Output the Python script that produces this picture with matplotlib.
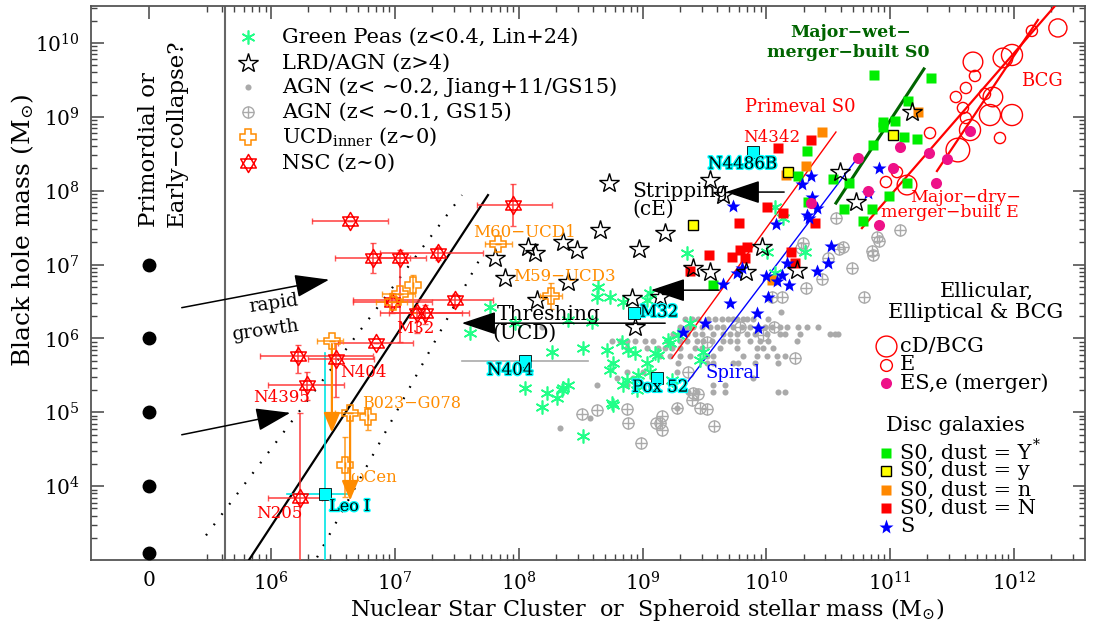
import numpy as np
import matplotlib
matplotlib.use('Agg')
import matplotlib.pyplot as plt
import matplotlib.patheffects as pe
from matplotlib.path import Path
from matplotlib.ticker import FixedLocator, NullFormatter

plt.rcParams['font.family'] = ['DejaVu Serif']
plt.rcParams['mathtext.fontset'] = 'dejavuserif'

# ---------------- data (log10 of solar masses) ----------------
zero_pos = 5.013            # where the "0" column sits on the log axis
seed_bh = [7.0, 6.0, 5.0, 4.0, 3.1]

gp_x = [8.64, 8.632, 8.737, 8.842, 9.06, 9.359, 7.767, 7.606, 8.591, 8.397, 8.268, 8.519,
        8.713, 8.834, 8.882, 8.939, 8.761, 8.737, 9.036, 9.06, 9.124, 9.221, 9.237, 8.05,
        8.228, 8.309, 8.187, 8.357, 8.397, 8.761, 8.842, 8.955, 9.036, 9.1, 9.205, 9.286,
        9.488, 9.464, 10.07, 10.134, 10.005, 10.312, 10.07, 9.383, 8.753, 8.519, 7.97,
        8.349, 8.963, 8.874]
gp_y = [6.694, 6.558, 6.558, 6.49, 6.612, 7.154, 6.423, 6.07, 6.22, 6.247, 5.813, 5.867,
        5.84, 5.948, 5.84, 5.799, 5.664, 5.569, 5.664, 5.542, 5.772, 5.935, 5.434, 5.325,
        5.257, 5.19, 5.068, 5.325, 5.366, 5.095, 5.366, 5.298, 6.518, 5.799, 5.976, 6.043,
        5.813, 5.705, 7.778, 7.629, 7.168, 7.168, 6.883, 6.206, 5.122, 4.675, 6.206,
        5.298, 5.501, 5.434]

lrd_x = [8.075, 8.131, 8.357, 7.808, 7.889, 8.147, 8.397, 8.729, 8.656, 8.47, 8.971, 9.181,
         8.914, 8.939, 9.545, 9.649, 9.407, 9.545, 10.594, 10.724, 11.176, 9.964, 9.835,
         10.247, 9.141]
lrd_y = [7.236, 7.154, 7.304, 7.087, 6.816, 6.518, 6.762, 8.103, 7.466, 7.195, 7.209, 7.425,
         6.545, 6.152, 8.144, 7.94, 6.951, 6.897, 8.252, 7.846, 9.065, 7.236, 6.897,
         6.924, 6.558]

agn_row_y = [6.355, 6.26, 6.152, 6.057, 5.962, 5.867, 5.759, 5.664, 5.542, 5.461, 5.366,
             5.271, 5.054, 4.919, 4.783, 6.152]
agn_row_x = [
    [10.118],
    [9.343, 9.399, 9.448, 9.528, 9.585, 9.641, 9.69, 9.73, 9.763, 9.811, 9.843, 9.892, 10.013],
    [9.302, 9.359, 9.407, 9.48, 9.544, 9.601, 9.649, 9.73, 9.803, 9.868, 9.932, 9.989, 10.045,
     10.11, 10.166, 10.255, 10.328, 10.417],
    [9.246, 9.302, 9.359, 9.423, 9.48, 9.569, 9.649, 9.706, 9.763, 9.843, 9.908, 10.005, 10.11,
     10.15, 10.271, 10.514, 10.554, 10.578],
    [8.753, 8.817, 8.874, 8.939, 9.019, 9.084, 9.197, 9.302, 9.359, 9.439, 9.488, 9.561, 9.649,
     9.706, 9.763, 9.868, 9.948, 10.013, 10.247],
    [8.874, 9.036, 9.124, 9.181, 9.237, 9.302, 9.423, 9.48, 9.625, 9.763, 9.924, 9.973, 10.053],
    [9.141, 9.221, 9.302, 9.383, 9.52, 9.569, 9.811, 9.924, 10.005, 10.086, 10.15],
    [9.286, 9.52, 9.569, 9.73, 9.771, 9.908, 10.094],
    [8.874, 9.003, 9.278],
    [8.793, 8.922, 9.892],
    [8.632, 8.874, 9.06, 9.569, 9.665],
    [9.367, 9.439, 9.569, 9.665, 10.094, 10.15],
    [9.278],
    [8.575],
    [8.333],
    [8.187],
]

gs15_x = [10.562, 11.079, 10.893, 10.618, 10.853, 10.861, 10.497, 10.296, 10.28, 10.586,
          10.691, 10.788, 10.449, 10.32, 10.126, 10.045, 10.061, 9.973, 9.787, 10.231, 9.52,
          9.367, 9.407, 9.448, 9.399, 9.278, 9.157, 9.141, 9.157, 9.52, 9.577, 8.882, 8.874,
          8.632, 8.51, 8.987, 9.108, 9.464, 10.91]
gs15_y = [7.629, 7.466, 7.371, 7.236, 7.182, 7.127, 7.087, 7.29, 7.222, 7.209, 6.951, 6.558,
          6.802, 6.68, 6.558, 6.558, 6.152, 6.043, 6.152, 5.732, 5.949, 5.542, 5.257, 5.244,
          5.163, 5.054, 4.946, 4.851, 4.756, 5.041, 4.81, 4.851, 5.041, 5.027, 4.973, 4.58,
          4.851, 5.054, 7.317]

nsc_x = [6.636, 6.822, 7.04, 7.349, 7.954, 7.484, 6.975, 7.177, 7.242, 6.847, 6.216, 6.524, 6.289, 6.232]
nsc_xlo = [6.33, 6.515, 6.88, 6.875, 7.661, 6.66, 6.66, 6.88, 6.95, 6.54, 5.909, 6.3, 5.974, 5.974]
nsc_xhi = [6.943, 7.121, 7.25, 7.71, 8.267, 7.79, 7.3, 7.54, 7.6, 7.145, 6.822, 6.83, 6.588, 6.409]
nsc_y = [7.588, 7.087, 7.087, 7.154, 7.805, 6.518, 6.49, 6.341, 6.341, 5.935, 5.759, 5.718, 5.366, 3.835]
nsc_ylo = [7.588, 6.883, 5.949, 7.06, 7.52, 6.44, 6.35, 6.07, 6.2, 5.935, 5.528, 5.203, 5.163, 2.9]
nsc_yhi = [7.588, 7.29, 7.195, 7.236, 8.09, 6.6, 6.62, 6.42, 6.45, 5.935, 5.908, 5.935, 5.542, 4.986]

ucd_x = [7.832, 8.26, 7.146, 7.04, 6.984, 6.49, 6.637, 6.782, 6.596]
ucd_xlo = [7.727, 8.171, 7.146, 6.896, 6.85, 6.369, 6.515, 6.782, 6.596]
ucd_xhi = [7.945, 8.349, 7.146, 7.162, 7.1, 6.58, 6.758, 6.782, 6.596]
ucd_y = [7.276, 6.572, 6.721, 6.599, 6.49, 5.962, 4.986, 4.932, 4.282]
ucd_ylo = [7.276, 6.396, 6.341, 6.599, 6.49, 5.962, 4.986, 4.756, 3.848]
ucd_yhi = [7.276, 6.748, 6.856, 6.599, 6.49, 5.962, 4.986, 5.054, 4.661]
ucd_lim_x = [6.49, 6.637]
ucd_lim_top = [5.962, 4.986]
ucd_lim_bot = [4.688, 3.767]

cyan_x = [8.05, 8.93, 9.116, 9.892, 6.436]     # N404, M32, Pox52, N4486B, Leo I
cyan_y = [5.691, 6.341, 5.461, 8.523, 3.889]
n404_xerr = [7.541, 8.559]
leo_xerr = [6.128, 6.637]
leo_ytop = 5.8

s0Y_x = [10.869, 11.329, 11.143, 10.942, 11.039, 10.942, 11.112, 11.217, 10.328, 10.255, 10.538,
         10.667, 11.136, 10.99, 10.336, 10.627, 10.853, 10.78, 10.861, 9.569]
s0Y_y = [9.566, 9.526, 9.214, 8.93, 8.943, 8.862, 8.726, 8.699, 8.537, 8.198, 8.157, 8.103,
         8.103, 7.927, 7.846, 7.751, 7.751, 7.588, 8.618, 6.721]
s0y_x = [10.175, 11.023, 9.407]
s0y_y = [8.252, 8.753, 7.534]
s0n_x = [10.449, 10.32, 11.225, 10.045, 10.16]
s0n_y = [8.794, 8.333, 9.065, 6.789, 8.211]
s0N_x = [10.361, 10.094, 10.005, 10.134, 9.779, 10.393, 9.536, 9.722, 9.787, 9.843, 9.827,
         10.199, 9.383, 10.231]
s0N_y = [8.686, 8.577, 7.778, 7.696, 7.561, 7.561, 7.127, 7.1, 7.195, 7.236, 7.087, 7.168,
         6.911, 7.019]
sp_x = [10.361, 10.288, 10.369, 10.409, 10.328, 10.345, 10.078, 9.73, 10.91, 10.821, 10.522,
        9.649, 9.706, 9.504, 9.326, 9.763, 9.803, 9.997, 10.086, 10.126, 10.182, 10.013,
        10.166, 10.409, 10.497, 9.924, 9.932]
sp_y = [8.198, 8.089, 7.913, 7.764, 7.669, 7.629, 7.547, 7.791, 8.306, 7.967, 7.249, 6.734,
        6.477, 6.206, 6.084, 6.883, 6.951, 6.843, 6.775, 6.856, 6.721, 6.558, 7.019, 6.911,
        7.019, 6.341, 6.138]

ese_x = [10.74, 11.079, 11.314, 11.023, 11.46, 11.645, 11.37, 10.821, 10.361, 10.91]
ese_y = [8.442, 8.591, 8.51, 8.306, 8.428, 8.808, 8.103, 7.995, 7.832, 7.534]
e_x = [12.145, 11.887, 11.322, 11.531, 11.612, 11.685, 11.588, 11.612, 11.766, 11.055, 10.966]
e_y = [10.163, 8.713, 8.78, 9.268, 9.39, 9.553, 9.119, 8.984, 9.309, 8.252, 8.117]
cd_x = [12.355, 11.669, 11.984, 11.911, 11.83, 11.806, 11.984, 11.645, 11.547, 11.136]
cd_y = [10.203, 9.743, 9.837, 9.797, 9.268, 9.024, 9.024, 8.821, 8.55, 8.076]
cd_size = [170, 200, 230, 200, 200, 230, 230, 230, 290, 200]

# relations (end points)
nsc_fit = ([5.82, 7.751], [3.0, 7.94])
nsc_lo = ([5.473, 7.541], [3.333, 7.94])
nsc_hi = ([6.37, 7.711], [3.035, 7.154])
primeval = ([9.237, 10.562], [5.732, 8.794])
spiral = ([9.343, 10.724], [5.366, 8.415])
wet = ([10.562, 11.273], [7.832, 9.648])
dry = ([10.772, 12.331], [7.493, 10.5])
bcg = ([11.378, 12.194], [8.266, 10.312])

# arrows (tail -> tip)
arrows = [((5.255, 6.409), (6.49, 6.802)),
          ((5.255, 4.688), (6.176, 5.0)),
          ((10.166, 7.981), (9.649, 7.981)),
          ((9.641, 6.653), (9.044, 6.653)),
          ((9.205, 6.206), (7.517, 6.206))]

P = lambda a: 10 ** np.asarray(a, dtype=float)

# ---------------- figure ----------------
fig = plt.figure(figsize=(10.99, 6.26), dpi=100)
ax = fig.add_axes([91 / 1099, 66 / 626, 994 / 1099, 554 / 626])
ax.set_xscale('log')
ax.set_yscale('log')
ax.set_xlim(10 ** 4.544, 10 ** 12.574)
ax.set_ylim(10 ** 3.0, 10 ** 10.5)

gray = '#aaaaaa'
red = '#ff0000'
orange = '#ff8c00'
gpc = '#22ff88'

# vertical divider
ax.axvline(10 ** 5.627, color='#666666', lw=1.5, zorder=1)

# seeds
ax.plot(P([zero_pos] * len(seed_bh)), P(seed_bh), 'o', color='k', ms=9, zorder=5)

# relations
ax.plot(P(nsc_fit[0]), P(nsc_fit[1]), color='k', lw=1.6, zorder=3)
ax.plot(P(nsc_lo[0]), P(nsc_lo[1]), color='k', lw=1.6, ls=(0, (0.8, 5)), zorder=3)
ax.plot(P(nsc_hi[0]), P(nsc_hi[1]), color='k', lw=1.6, ls=(0, (0.8, 5)), zorder=3)
ax.plot(P(primeval[0]), P(primeval[1]), color=red, lw=1.0, zorder=3)
ax.plot(P(spiral[0]), P(spiral[1]), color='#0000ff', lw=1.0, zorder=3)
ax.plot(P(wet[0]), P(wet[1]), color='#006400', lw=2.2, zorder=3)
ax.plot(P(dry[0]), P(dry[1]), color=red, lw=1.6, zorder=3)
ax.plot(P(bcg[0]), P(bcg[1]), color=red, lw=1.6, zorder=3)

# AGN points
agn_x = [v for row in agn_row_x for v in row]
agn_y = [y for y, row in zip(agn_row_y, agn_row_x) for _ in row]
ax.plot(P(agn_x), P(agn_y), 'o', color=gray, ms=4.4, mec='none', zorder=2)
ax.plot(P(gs15_x), P(gs15_y), 'o', mfc='none', mec=gray, ms=8, mew=1.0, zorder=2)
ax.plot(P(gs15_x), P(gs15_y), '+', color=gray, ms=8, mew=1.0, zorder=2)

# green peas
ax.plot(P(gp_x), P(gp_y), ls='none', marker=(6, 2, 0), color=gpc, ms=10, mew=1.2, zorder=4)

# LRDs
ax.plot(P(lrd_x), P(lrd_y), '*', mfc='none', mec='k', ms=15, mew=1.0, zorder=6)

# S0 / S
ax.plot(P(s0N_x), P(s0N_y), 's', color='#ff0000', ms=7, mec='none', zorder=5)
ax.plot(P(s0n_x), P(s0n_y), 's', color='#ff8800', ms=7, mec='none', zorder=5)
ax.plot(P(s0y_x), P(s0y_y), 's', color='#ffff00', ms=7, mec='k', mew=1.0, zorder=5)
ax.plot(P(s0Y_x), P(s0Y_y), 's', color='#00ee00', ms=7, mec='none', zorder=5)
ax.plot(P(sp_x), P(sp_y), '*', color='#0000ff', ms=10, mec='none', zorder=5)

# ellipticals
ax.scatter(P(cd_x), P(cd_y), s=cd_size, facecolors='none', edgecolors=red, linewidths=1.0, zorder=4)
ax.scatter(P(e_x), P(e_y), s=65, facecolors='none', edgecolors=red, linewidths=1.0, zorder=4)
ax.plot(P(ese_x), P(ese_y), 'o', color='#ee1188', ms=8, mec='none', zorder=5)

# NSCs with errors
hexagram = Path([(0, 1), (0.866, -0.5), (-0.866, -0.5), (0, 1),
                 (0, -1), (0.866, 0.5), (-0.866, 0.5), (0, -1)],
                [Path.MOVETO, Path.LINETO, Path.LINETO, Path.CLOSEPOLY] * 2)
nx, ny = P(nsc_x), P(nsc_y)
ax.errorbar(nx, ny, xerr=[nx - P(nsc_xlo), P(nsc_xhi) - nx],
            yerr=[ny - P(nsc_ylo), P(nsc_yhi) - ny], fmt='none',
            ecolor='#ff3030', elinewidth=1.3, capsize=2.5, alpha=0.8, zorder=6)
ax.plot(nx, ny, ls='none', marker=hexagram, mfc='none', mec=red, ms=13, mew=1.1, zorder=7)

# UCDs
ux, uy = P(ucd_x), P(ucd_y)
ax.errorbar(ux, uy, xerr=[ux - P(ucd_xlo), P(ucd_xhi) - ux],
            yerr=[uy - P(ucd_ylo), P(ucd_yhi) - uy], fmt='none',
            ecolor=orange, elinewidth=1.2, capsize=2.5, alpha=0.8, zorder=6)
ax.plot(ux, uy, ls='none', marker='P', mfc='none', mec=orange, ms=11, mew=1.1, zorder=7)
for xx, yt, yb in zip(ucd_lim_x, ucd_lim_top, ucd_lim_bot):
    ax.annotate('', xy=(10 ** xx, 10 ** yb), xytext=(10 ** xx, 10 ** yt),
                arrowprops=dict(arrowstyle='-|>,head_length=1.2,head_width=0.5',
                                color=orange, lw=1.6, mutation_scale=10), zorder=6)

# cyan special objects
ax.plot(P(n404_xerr), P([cyan_y[0]] * 2), color=gray, lw=1.2, zorder=3)
ax.plot(P(leo_xerr), P([cyan_y[4]] * 2), color='#00e5e5', lw=1.2, zorder=3)
ax.plot(P([cyan_x[4]] * 2), P([leo_ytop, 2.9]), color='#00e5e5', lw=1.2, zorder=3)
ax.plot(P(cyan_x), P(cyan_y), 's', color='#00ffff', ms=8, mec='k', mew=0.6, zorder=8)

# arrows
for tail, tip in arrows:
    ax.annotate('', xy=(10 ** tip[0], 10 ** tip[1]), xytext=(10 ** tail[0], 10 ** tail[1]),
                arrowprops=dict(arrowstyle='-|>,head_length=1.8,head_width=0.6',
                                color='k', lw=1.1, mutation_scale=12), zorder=9)

# ---------------- text labels ----------------
def lab(x, y, s, c='k', ha='left', fs=11.5, **kw):
    ax.text(10 ** x, 10 ** y, s, color=c, ha=ha, va='center', fontsize=fs, zorder=10, **kw)

cy = [pe.withStroke(linewidth=2.0, foreground='#00ffff')]
lab(7.16, 6.14, 'M32', red, ha='center', fs=12)
lab(6.556, 5.542, 'N404', red, fs=12)
lab(6.08, 5.203, 'N4395', red, ha='center', fs=12)
lab(6.064, 3.631, 'N205', red, ha='center', fs=12)
lab(6.735, 5.122, 'B023\u2212G078', orange)
lab(6.637, 4.12, '\u03c9Cen', orange, fs=12)
lab(6.468, 3.726, 'Leo I', path_effects=cy)
lab(7.629, 7.439, 'M60\u2212UCD1', orange, fs=12)
lab(7.953, 6.843, 'M59\u2212UCD3', orange, fs=12)
lab(7.823, 6.328, 'Threshing', fs=14.5)
lab(7.79, 6.07, '(UCD)', fs=14.5)
lab(8.979, 6.355, 'M32', path_effects=cy, fs=12)
lab(7.743, 5.569, 'N404', path_effects=cy, fs=12)
lab(8.914, 5.339, 'Pox 52', path_effects=cy, fs=12)
lab(9.512, 5.528, 'Spiral', '#0000ff', fs=13)
lab(8.914, 7.995, 'Stripping', fs=14.5)
lab(8.914, 7.751, '(cE)', fs=14.5)
lab(9.528, 8.36, 'N4486B', path_effects=cy, fs=12)
lab(9.811, 8.726, 'N4342', red, fs=12)
lab(9.827, 9.133, 'Primeval S0', red, fs=13)
lab(10.683, 10.136, 'Major\u2212wet\u2212', '#006400', ha='center', fs=12.5, fontweight='bold')
lab(10.66, 9.865, 'merger\u2212built S0', '#006400', ha='center', fs=12.5, fontweight='bold')
lab(12.226, 9.485, 'BCG', red, ha='center', fs=13)
lab(11.612, 7.913, 'Major\u2212dry\u2212', red, ha='center', fs=12.5)
lab(11.484, 7.71, 'merger\u2212built E', red, ha='center', fs=12.5)

ax.text(10 ** zero_pos, 10 ** 7.507, 'Primordial or', rotation=90, ha='center', va='bottom', fontsize=16.5)
ax.text(10 ** 5.237, 10 ** 7.507, 'Early\u2212collapse?', rotation=90, ha='center', va='bottom', fontsize=16.5)
ax.text(10 ** 6.02, 10 ** 6.47, 'rapid', rotation=8, ha='center', va='center', fontsize=13.5)
ax.text(10 ** 5.95, 10 ** 6.11, 'growth', rotation=8, ha='center', va='center', fontsize=13.5)

# ---------------- legends (axes fraction) ----------------
T = ax.transAxes
LFS = 15
leg1 = [((6, 2, 0), dict(color=gpc, ms=10, mew=1.2), 'Green Peas (z<0.4, Lin+24)'),
        ('*', dict(mfc='none', mec='k', ms=15, mew=1.0), 'LRD/AGN (z>4)'),
        ('o', dict(color=gray, ms=4.4, mec='none'), 'AGN (z< ~0.2, Jiang+11/GS15)'),
        ('o', dict(mfc='none', mec=gray, ms=8, mew=1.0), 'AGN (z< ~0.1, GS15)'),
        ('P', dict(mfc='none', mec=orange, ms=11, mew=1.1), 'UCD$_{\\rm inner}$ (z~0)'),
        (hexagram, dict(mfc='none', mec=red, ms=13, mew=1.1), 'NSC (z~0)')]
leg1_y = [0.944, 0.897, 0.854, 0.809, 0.764, 0.717]
for (m, kw, s), yy in zip(leg1, leg1_y):
    ax.plot([0.158], [yy], ls='none', marker=m, transform=T, clip_on=False, **kw)
    if s.startswith('AGN (z< ~0.1'):
        ax.plot([0.158], [yy], ls='none', marker='+', color=gray, ms=8, mew=1.0, transform=T)
    ax.text(0.192, yy, s, transform=T, fontsize=LFS, va='center', ha='left')

ax.text(0.901, 0.484, 'Ellicular,', transform=T, fontsize=LFS, ha='center', va='center')
ax.text(0.890, 0.446, 'Elliptical & BCG', transform=T, fontsize=LFS, ha='center', va='center')
leg2 = [(0.386, dict(marker='o', mfc='none', mec=red, ms=15, mew=1.0), 'cD/BCG'),
        (0.352, dict(marker='o', mfc='none', mec=red, ms=8.5, mew=1.0), 'E'),
        (0.319, dict(marker='o', color='#ee1188', ms=8, mec='none'), 'ES,e (merger)'),
        (0.193, dict(marker='s', color='#00ee00', ms=7, mec='none'), 'S0, dust = Y'),
        (0.161, dict(marker='s', color='#ffff00', ms=7, mec='k', mew=1.0), 'S0, dust = y'),
        (0.126, dict(marker='s', color='#ff8800', ms=7, mec='none'), 'S0, dust = n'),
        (0.094, dict(marker='s', color='#ff0000', ms=7, mec='none'), 'S0, dust = N'),
        (0.060, dict(marker='*', color='#0000ff', ms=11, mec='none'), 'S')]
for i, (yy, kw, s) in enumerate(leg2):
    ax.plot([0.80], [yy], ls='none', transform=T, **kw)
    t = ax.text(0.814, yy, s, transform=T, fontsize=LFS, va='center', ha='left')
    if i == 3:
        ax.annotate('*', xy=(1.0, 1.0), xycoords=t, xytext=(1, 4), textcoords='offset points',
                    fontsize=10, ha='left', va='top')
ax.text(0.80, 0.243, 'Disc galaxies', transform=T, fontsize=LFS, va='center', ha='left')

# ---------------- axes cosmetics ----------------
xmaj = [10 ** zero_pos] + [10.0 ** d for d in range(6, 13)]
ax.xaxis.set_major_locator(FixedLocator(xmaj))
ax.set_xticklabels(['0'] + ['$10^{%d}$' % d for d in range(6, 13)])
xmin = [k * 10.0 ** 5 for k in range(3, 10)] + [k * 10.0 ** d for d in range(6, 13) for k in range(2, 10)]
ax.xaxis.set_minor_locator(FixedLocator(xmin))
ax.xaxis.set_minor_formatter(NullFormatter())
ymaj = [10.0 ** d for d in range(4, 11)]
ax.yaxis.set_major_locator(FixedLocator(ymaj))
ax.set_yticklabels(['$10^{%d}$' % d for d in range(4, 11)])
ymin = [k * 10.0 ** d for d in range(3, 11) for k in range(2, 10)]
ax.yaxis.set_minor_locator(FixedLocator(ymin))
ax.yaxis.set_minor_formatter(NullFormatter())
ax.tick_params(which='both', direction='in', top=True, right=True, color='#444444', labelsize=14.5)
ax.tick_params(which='major', length=9, width=1.1, pad=8)
ax.tick_params(which='minor', length=4.5, width=1.0)
for sp in ax.spines.values():
    sp.set_color('#555555')
    sp.set_linewidth(1.3)

ax.set_xlabel('Nuclear Star Cluster  or  Spheroid stellar mass (M$_{\\odot}$)', fontsize=16)
ax.xaxis.set_label_coords(0.56, -0.065)
ax.set_ylabel('Black hole mass (M$_{\\odot}$)', fontsize=18)
ax.yaxis.set_label_coords(-0.055, 0.595)

fig.savefig('out.png', dpi=100)
